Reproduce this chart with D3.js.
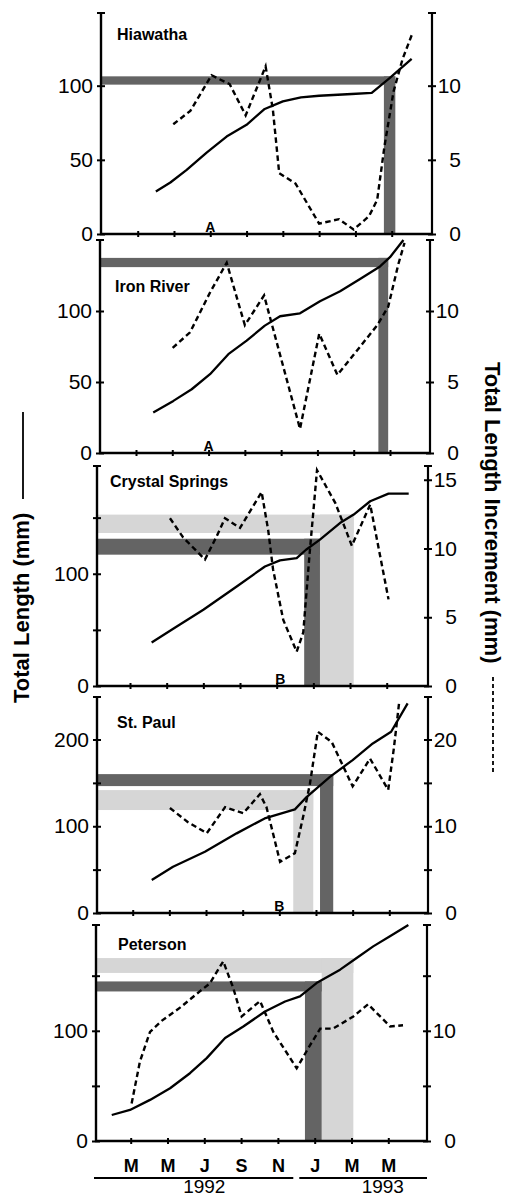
<!DOCTYPE html>
<html>
<head lang="en">
    <meta charset="UTF-8">
    <title></title>
    <style>
        body { margin: 0; background: #fff; }
        svg { display: block; font-family: "Liberation Sans", Arial, sans-serif; }
    </style>
</head>
<body>

<script src="https://cdn.jsdelivr.net/npm/d3@7"></script>
<script>

    // months counted from Jan 1992 = 1
    var sites = ['Hiawatha', 'Iron River', 'Crystal Springs', 'St. Paul', 'Peterson'];
    var monthTicks = [3, 5, 7, 9, 11, 13, 15, 17];
    var monthLabels = ['M', 'M', 'J', 'S', 'N', 'J', 'M', 'M'];
    var yearLabels = ['1992', '1993'];

    // total length (mm) - solid line
    var hiawathaLength = [[4.0, 28.6], [4.8, 34.7], [5.7, 43.2], [6.8, 54.9], [7.9, 65.7], [9.0, 73.6], [10.0, 84.3],
        [11.0, 89.4], [12.0, 92.1], [13.0, 93.2], [14.8, 94.4], [15.9, 95.1], [16.9, 105.2], [18.1, 118]];
    var ironRiverLength = [[3.95, 28.5], [5.06, 36.7], [6.07, 44.9], [7.08, 55.5], [8.09, 69.6], [9.1, 79.1], [10.1, 89.7],
        [10.94, 96.3], [12.04, 98.4], [13.14, 106.9], [14.25, 113.9], [15.35, 122.6], [16.45, 131.4], [17.0, 137.9], [17.74, 150]];
    var crystalLength = [[4.18, 38.7], [5.55, 53], [7.0, 67.9], [8.82, 88.7], [10.36, 106.5], [11.18, 111.9], [12.09, 114],
        [12.6, 121.4], [13.36, 130.4], [14.45, 145.2], [15.2, 152.7], [16.1, 164.6], [17.1, 171.4], [18.2, 171.4]];
    var stPaulLength = [[4.04, 38], [5.2, 53.3], [6.94, 70.6], [8.67, 91.8], [10.2, 109], [11.85, 119.5], [12.5, 134],
        [13.76, 157], [15.0, 176.3], [16.1, 195.5], [17.1, 208.9], [18.0, 241.6]];
    var petersonLength = [[1.97, 23.6], [2.96, 28.2], [4.05, 37.3], [5.14, 47.9], [6.22, 61.5], [7.13, 75.2], [8.13, 93.4],
        [9.12, 103.9], [10.3, 117.5], [11.39, 126.6], [12.2, 131.2], [13.1, 143.3], [14.38, 155.5], [15.28, 166.1],
        [16.18, 176.6], [17.09, 185.7], [18.09, 196]];

    // total length increment (mm) - dashed line
    var hiawathaIncrement = [[4.96, 7.4], [5.9, 8.3], [7.07, 10.7], [8.07, 10.1], [8.95, 8.0], [10.05, 11.3], [10.45, 8.4],
        [10.8, 4.1], [11.7, 3.4], [13.0, 0.7], [14.1, 1.0], [14.9, 0.3], [15.75, 1.2], [16.2, 2.3], [16.6, 5.9],
        [17.1, 9.6], [17.6, 11.8], [18.1, 13.4]];
    var ironRiverIncrement = [[5.02, 7.4], [5.98, 8.5], [7.08, 11.3], [8.0, 13.4], [9.0, 9.0], [10.06, 11.1], [12.04, 1.7],
        [13.1, 8.4], [14.1, 5.5], [16.3, 9.0], [16.9, 10.3], [17.46, 13.3], [17.8, 14.8]];
    var crystalIncrement = [[5.18, 12.2], [5.9, 10.8], [7.09, 9.2], [7.73, 10.9], [8.18, 12.2], [9.0, 11.5], [10.18, 14.1],
        [10.54, 11.3], [10.8, 8.5], [11.36, 4.8], [12.09, 2.5], [12.45, 3.9], [12.8, 9.7], [13.2, 15.7], [14.2, 13.3],
        [15.1, 10.2], [16.1, 13.2], [17.1, 6.3]];
    var stPaulIncrement = [[5.03, 12.1], [6.0, 10.5], [7.04, 9.2], [8.04, 12.2], [9.03, 11.5], [9.94, 13.7], [10.3, 12.2],
        [11.04, 5.9], [11.85, 6.9], [12.3, 11.1], [12.67, 14.9], [13.1, 20.9], [13.86, 19.7], [15.0, 14.6], [15.95, 17.8],
        [16.94, 14.2], [17.25, 19.0], [17.55, 24.5]];
    var petersonIncrement = [[3.05, 3.4], [3.5, 7.2], [4.05, 9.9], [4.68, 10.9], [5.68, 12.1], [6.77, 13.6], [7.3, 14.3],
        [8.03, 16.3], [8.57, 13.9], [9.03, 11.3], [10.03, 12.7], [10.75, 9.9], [12.02, 6.6], [12.75, 8.7], [13.3, 10.2],
        [14.0, 10.2], [15.1, 11.3], [15.9, 12.4], [17.1, 10.4], [17.8, 10.5]];

    var lengths = [hiawathaLength, ironRiverLength, crystalLength, stPaulLength, petersonLength];
    var increments = [hiawathaIncrement, ironRiverIncrement, crystalIncrement, stPaulIncrement, petersonIncrement];

    // shaded bands: months m0-m1, length l0-l1
    var darkBands = [
        {m0: 16.57, m1: 17.2, l0: 100.7, l1: 106.3},
        {m0: 16.36, m1: 16.9, l0: 130.9, l1: 137.4},
        {m0: 12.5, m1: 13.36, l0: 117, l1: 131.2},
        {m0: 13.22, m1: 13.94, l0: 146.3, l1: 160.1},
        {m0: 12.47, m1: 13.38, l0: 135.7, l1: 144.8}
    ];
    var lightBands = [
        null,
        null,
        {m0: 13.36, m1: 15.2, l0: 136.3, l1: 152.7},
        {m0: 11.76, m1: 12.85, l0: 118.7, l1: 141.7},
        {m0: 13.38, m1: 15.1, l0: 152.5, l1: 166}
    ];

    var leftMax = [149, 150, 196, 249, 196];
    var rightMax = [14.9, 15, 16, 24.9, 19.6];
    var leftTicks = [[0, 50, 100], [0, 50, 100], [0, 50, 100, 150], [0, 50, 100, 150, 200], [0, 50, 100, 150]];
    var leftTickLabels = [[0, 50, 100], [0, 50, 100], [0, 100], [0, 100, 200], [0, 100]];
    var rightTicks = [[0, 5, 10], [0, 5, 10], [0, 5, 10, 15], [0, 5, 10, 15, 20], [0, 5, 10, 15]];
    var rightTickLabels = [[0, 5, 10], [0, 5, 10], [0, 5, 10, 15], [0, 10, 20], [0, 10]];
    var markLetters = ['A', 'A', 'B', 'B', ''];
    var markMonths = [7, 7, 11.2, 11, 0];

    // panel frames (pixels)
    var panels = [
        {left: 101, right: 432, x3: 137.7, x17: 391.7, top: 13, zero: 234, lx: 16, ly: 27},
        {left: 100, right: 430, x3: 136, x17: 390, top: 240, zero: 453, lx: 15, ly: 52},
        {left: 97, right: 428, x3: 130, x17: 386.7, top: 466, zero: 686, lx: 13, ly: 21},
        {left: 97, right: 428, x3: 132.7, x17: 389.3, top: 697, zero: 913, lx: 20, ly: 31},
        {left: 96, right: 427, x3: 130.7, x17: 388.3, top: 925, zero: 1141, lx: 22, ly: 25}
    ];

    var w = 509,
        h = 1198;

    var svg = d3.select('body')
            .append('svg')
            .attr('width', w)
            .attr('height', h);

    panels.forEach(function(p, i) {
        var x = d3.scaleLinear().domain([3, 17]).range([p.x3, p.x17]);
        var yL = d3.scaleLinear().domain([0, leftMax[i]]).range([p.zero, p.top]);
        var yR = d3.scaleLinear().domain([0, rightMax[i]]).range([p.zero, p.top]);

        var g = svg.append('g');

        // shaded bands, light first
        [[lightBands[i], '#d6d6d6'], [darkBands[i], '#646464']].forEach(function(b) {
            var band = b[0];
            if (!band) return;
            g.append('rect')
                .attr('x', p.left)
                .attr('y', yL(band.l1))
                .attr('width', x(band.m1) - p.left)
                .attr('height', yL(band.l0) - yL(band.l1))
                .attr('fill', b[1]);
            g.append('rect')
                .attr('x', x(band.m0))
                .attr('y', yL(band.l1))
                .attr('width', x(band.m1) - x(band.m0))
                .attr('height', p.zero - yL(band.l1))
                .attr('fill', b[1]);
        });

        var lenLine = d3.line()
                .x(function(d) { return x(d[0]); })
                .y(function(d) { return yL(d[1]); });
        var incLine = d3.line()
                .x(function(d) { return x(d[0]); })
                .y(function(d) { return yR(d[1]); });

        g.append('path')
            .datum(lengths[i])
            .attr('d', lenLine)
            .attr('fill', 'none')
            .attr('stroke', '#000')
            .attr('stroke-width', 2.3)
            .attr('stroke-linejoin', 'round');

        g.append('path')
            .datum(increments[i])
            .attr('d', incLine)
            .attr('fill', 'none')
            .attr('stroke', '#000')
            .attr('stroke-width', 2.4)
            .attr('stroke-dasharray', '5.5,3.5');

        // frame
        g.append('line')
            .attr('x1', p.left).attr('x2', p.left)
            .attr('y1', p.top).attr('y2', p.zero)
            .attr('stroke', '#000').attr('stroke-width', 2.4);
        g.append('line')
            .attr('x1', p.right).attr('x2', p.right)
            .attr('y1', p.top).attr('y2', p.zero)
            .attr('stroke', '#000').attr('stroke-width', 2.2);
        g.append('line')
            .attr('x1', p.left - 1).attr('x2', p.right + 1)
            .attr('y1', p.zero).attr('y2', p.zero)
            .attr('stroke', '#000').attr('stroke-width', 2.4);
        [p.left, p.right].forEach(function(cx) {
            g.append('line')
                .attr('x1', cx - 4).attr('x2', cx + 4)
                .attr('y1', p.top).attr('y2', p.top)
                .attr('stroke', '#000').attr('stroke-width', 2);
        });

        // left axis
        var la = g.append('g')
            .attr('transform', 'translate(' + p.left + ',0)')
            .call(d3.axisLeft(yL)
                .tickValues(leftTicks[i])
                .tickSize(4)
                .tickPadding(4)
                .tickFormat(function(d) { return leftTickLabels[i].indexOf(d) >= 0 ? d : ''; }));
        la.select('.domain').remove();
        la.selectAll('line').attr('x1', 4).attr('stroke-width', 2);
        la.selectAll('text')
            .attr('font-size', 21)
            .attr('font-family', '"Liberation Sans", Arial, sans-serif')
            .attr('fill', '#000');

        // right axis
        var ra = g.append('g')
            .attr('transform', 'translate(' + p.right + ',0)')
            .call(d3.axisRight(yR)
                .tickValues(rightTicks[i])
                .tickSize(4)
                .tickFormat(function(d) { return rightTickLabels[i].indexOf(d) >= 0 ? d : ''; }));
        ra.select('.domain').remove();
        ra.selectAll('line').attr('x1', -4).attr('stroke-width', 2);
        ra.selectAll('text')
            .attr('x', 29)
            .attr('text-anchor', 'end')
            .attr('font-size', 21)
            .attr('font-family', '"Liberation Sans", Arial, sans-serif')
            .attr('fill', '#000');

        // month axis
        var last = i === panels.length - 1;
        var xa = g.append('g')
            .attr('transform', 'translate(0,' + p.zero + ')')
            .call(d3.axisBottom(x)
                .tickValues(monthTicks)
                .tickSize(3)
                .tickFormat(function(d, k) { return last ? monthLabels[k] : ''; }));
        xa.select('.domain').remove();
        xa.selectAll('line').attr('y1', -3).attr('stroke-width', 2);
        xa.selectAll('text')
            .attr('y', 31)
            .attr('dy', null)
            .attr('font-size', 18)
            .attr('font-weight', 'bold')
            .attr('font-family', '"Liberation Sans", Arial, sans-serif')
            .attr('fill', '#000');

        if (last) {
            g.append('line')
                .attr('x1', p.left - 2).attr('x2', x(12) - 3)
                .attr('y1', p.zero + 37).attr('y2', p.zero + 37)
                .attr('stroke', '#000').attr('stroke-width', 2);
            g.append('line')
                .attr('x1', x(12) + 3).attr('x2', p.right)
                .attr('y1', p.zero + 37).attr('y2', p.zero + 37)
                .attr('stroke', '#000').attr('stroke-width', 2);
            g.selectAll('text.year')
                .data(yearLabels)
                .enter()
                .append('text')
                .attr('class', 'year')
                .text(function(d) { return d; })
                .attr('x', function(d, k) { return x(k === 0 ? 7 : 16.7); })
                .attr('y', p.zero + 52)
                .attr('text-anchor', 'middle')
                .attr('font-size', 19);
        }

        // site name and letter
        g.append('text')
            .text(sites[i])
            .attr('x', p.left + p.lx)
            .attr('y', p.top + p.ly)
            .attr('font-size', 16)
            .attr('font-weight', 'bold');

        if (markLetters[i]) {
            g.append('text')
                .text(markLetters[i])
                .attr('x', x(markMonths[i]))
                .attr('y', p.zero - 2)
                .attr('text-anchor', 'middle')
                .attr('font-size', 14)
                .attr('font-weight', 'bold');
        }
    });

    // axis titles
    svg.append('text')
        .text('Total Length (mm)')
        .attr('transform', 'translate(29,703) rotate(-90)')
        .attr('font-size', 22)
        .attr('font-weight', 'bold');
    svg.append('line')
        .attr('x1', 23).attr('x2', 23)
        .attr('y1', 412).attr('y2', 499)
        .attr('stroke', '#000').attr('stroke-width', 1.8);

    svg.append('text')
        .text('Total Length Increment (mm)')
        .attr('transform', 'translate(485,362) rotate(90)')
        .attr('font-size', 22)
        .attr('font-weight', 'bold');
    svg.append('line')
        .attr('x1', 493).attr('x2', 493)
        .attr('y1', 677).attr('y2', 772)
        .attr('stroke', '#000').attr('stroke-width', 1.8)
        .attr('stroke-dasharray', '4,3');

</script>
</body>
</html>
